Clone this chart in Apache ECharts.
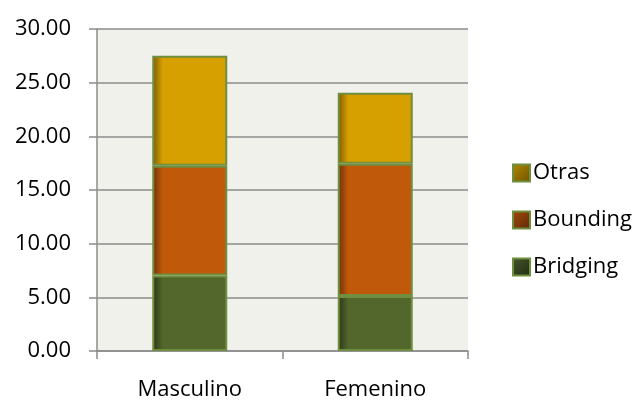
<!DOCTYPE html>
<html>
<head>
<meta charset="utf-8">
<script src="https://cdn.jsdelivr.net/npm/echarts@6/dist/echarts.min.js"></script>
<style>
  html, body { margin: 0; padding: 0; background: #fff; }
  #chart { width: 635px; height: 401px; }
</style>
</head>
<body>
<div id="chart"></div>
<script>
  const categories = ['Masculino', 'Femenino'];
  const bridging = [7.03, 5.13];
  const bounding = [10.23, 12.31];
  const otras = [10.24, 6.63];
  const yTicks = [0, 5, 10, 15, 20, 25, 30];

  const font = '"Open Sans", sans-serif';
  const edge = '#6F8E3F';

  // darker left edge, like the bevel in the original
  const shade = (dark, base) => new echarts.graphic.LinearGradient(0, 0, 1, 0, [
    { offset: 0, color: dark },
    { offset: 0.14, color: base },
    { offset: 1, color: base },
  ]);

  // legend swatches are darker, shaded toward the bottom right
  const swatch = (light, dark) => new echarts.graphic.LinearGradient(0, 0, 1, 1, [
    { offset: 0, color: light },
    { offset: 1, color: dark },
  ]);

  const barSeries = (name, data, dark, base) => ({
    name,
    type: 'bar',
    stack: 'total',
    barWidth: 75,
    data,
    itemStyle: {
      color: shade(dark, base),
      borderColor: edge,
      borderWidth: 2,
    },
  });

  const chart = echarts.init(document.getElementById('chart'));
  chart.setOption({
    animation: false,
    textStyle: { fontFamily: font },
    grid: {
      left: 97,
      right: 167,
      top: 29,
      bottom: 50,
      show: true,
      backgroundColor: '#EFF1EA',
      borderWidth: 0,
    },
    legend: {
      orient: 'vertical',
      left: 507,
      top: 157,
      itemWidth: 17,
      itemHeight: 17,
      itemGap: 25,
      icon: 'rect',
      data: [
        { name: 'Otras', itemStyle: { color: swatch('#B08A00', '#6E5200') } },
        { name: 'Bounding', itemStyle: { color: swatch('#A4480A', '#5E2A08') } },
        { name: 'Bridging', itemStyle: { color: swatch('#44562A', '#222C14') } },
      ],
      textStyle: { fontFamily: font, fontSize: 22, color: '#000', padding: [0, 0, 0, -2] },
      itemStyle: { borderColor: edge, borderWidth: 2 },
    },
    xAxis: {
      type: 'category',
      data: categories,
      axisLine: { lineStyle: { color: '#8C8C8C', width: 1.5 } },
      axisTick: { show: true, length: 8, lineStyle: { color: '#8C8C8C', width: 1.5 } },
      axisLabel: { color: '#000', fontSize: 22, fontFamily: font, margin: 28 },
    },
    yAxis: {
      type: 'value',
      min: yTicks[0],
      max: yTicks[yTicks.length - 1],
      interval: 5,
      axisLine: { show: true, lineStyle: { color: '#8C8C8C', width: 1.5 } },
      axisTick: { show: true, length: 8, lineStyle: { color: '#8C8C8C', width: 1.5 } },
      axisLabel: {
        color: '#000',
        fontSize: 22,
        fontFamily: font,
        margin: 26,
        formatter: (v) => v.toFixed(2),
      },
      splitLine: { lineStyle: { color: '#8C8C8C', width: 1.5 } },
    },
    series: [
      barSeries('Bridging', bridging, '#2A3416', '#53662C'),
      barSeries('Bounding', bounding, '#6A3108', '#C05A0A'),
      barSeries('Otras', otras, '#7A5A05', '#D6A000'),
    ],
  });
</script>
</body>
</html>
